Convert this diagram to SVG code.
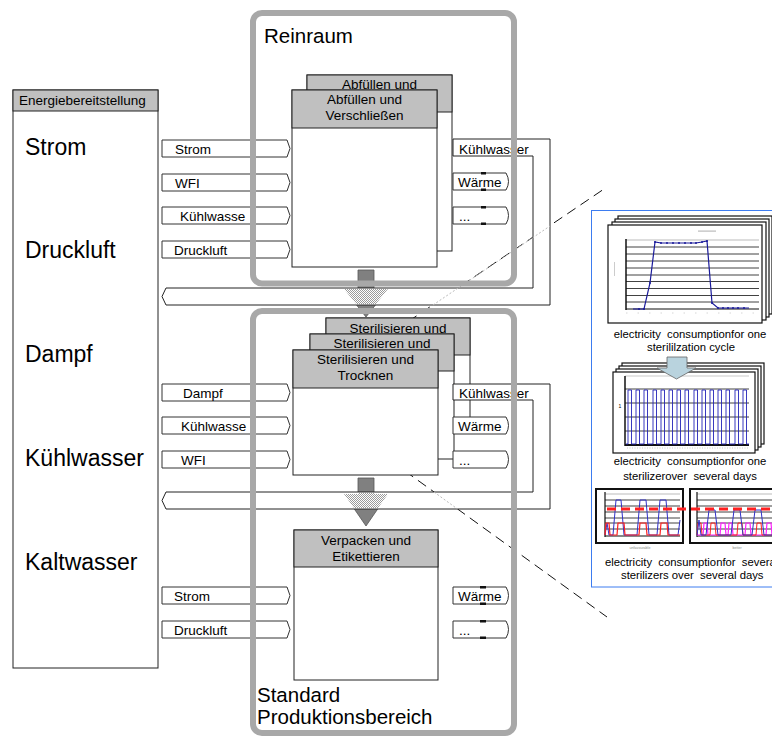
<svg xmlns="http://www.w3.org/2000/svg" width="772" height="738" viewBox="0 0 772 738">
<style>
text{font-family:"Liberation Sans",Arial,sans-serif;fill:#000}
.big{font-size:23px}
.hdr{font-size:13.5px}
.lbl{font-size:13.5px}
.proc{font-size:13.5px;text-anchor:middle}
.region{font-size:20.5px}
.cap{font-size:11.3px;white-space:pre}
.tiny{font-size:3.6px;fill:#888;text-anchor:middle}
.box{fill:#fff;stroke:#222;stroke-width:1}
.head{fill:#c0c0c0;stroke:#222;stroke-width:1}
.io{fill:#fff;stroke:#333;stroke-width:1}
.tick{fill:#111}
.zone{fill:none;stroke:#a8a8a8;stroke-width:6}
.band{fill:#fff;stroke:#222;stroke-width:1}
.flow{fill:#808080;stroke:#555;stroke-width:0.8}
.ghost{fill:url(#grey-dither)}
.dash{fill:none;stroke:#111;stroke-width:1;stroke-dasharray:10 6}
.faint{fill:none;stroke:#bbb;stroke-width:1;stroke-dasharray:2 2}
.page{fill:#fff;stroke:#111;stroke-width:1.2}
.grid{stroke:#111;stroke-width:0.8}
.frame{fill:#fff;stroke:#111;stroke-width:2}
</style>
<defs>
  <pattern id="grey-dither" width="2" height="2" patternUnits="userSpaceOnUse">
    <rect width="1" height="1" fill="#9a9a9a"/>
    <rect x="1" y="1" width="1" height="1" fill="#9a9a9a"/>
  </pattern>
  <marker id="dot" markerWidth="3" markerHeight="3" refX="1.5" refY="1.5" markerUnits="userSpaceOnUse">
    <circle cx="1.5" cy="1.5" r="1" fill="#1a1a9a"/>
  </marker>
</defs>

<rect width="772" height="738" fill="#fff"/>

<!-- energy supply column -->
<g id="energiebereitstellung">
  <rect class="box" x="13" y="90" width="145" height="578"/>
  <rect class="head" x="13" y="90" width="145" height="21"/>
  <text class="hdr" x="19" y="105">Energiebereitstellung</text>
  <text class="big" x="25" y="155">Strom</text>
  <text class="big" x="25" y="258">Druckluft</text>
  <text class="big" x="25" y="362">Dampf</text>
  <text class="big" x="25" y="466">Kühlwasser</text>
  <text class="big" x="25" y="570">Kaltwasser</text>
</g>

<!-- zoom lines towards the measurement panel, and flow arrows (under the machines) -->
<g id="connectors-back">
  <path class="dash" d="M395,330.5 L604,189"/>
  <path class="dash" d="M405,471 L607,617"/>
  <path class="flow" d="M358,270 H374 V289 H388 L366,317 L344,289 H358 Z"/>
  <path class="flow" d="M358,478 H374 V494 H388 L366,526 L344,494 H358 Z"/>
</g>

<!-- filling stage (stacked machines) -->
<g id="abfuellen">
  <rect class="box" x="307" y="75" width="145" height="176"/>
  <rect class="head" x="307" y="75" width="145" height="37"/>
  <text class="proc" x="379.5" y="89">Abfüllen und</text>
  <rect class="box" x="292" y="90" width="145" height="177"/>
  <rect class="head" x="292" y="90" width="145" height="38"/>
  <text class="proc" x="364.5" y="104">Abfüllen und</text>
  <text class="proc" x="364.5" y="120">Verschließen</text>
</g>

<!-- sterilisation stage (three machines) -->
<g id="sterilisieren">
  <rect class="box" x="326" y="318" width="144" height="110"/>
  <rect class="head" x="326" y="318" width="144" height="37"/>
  <text class="proc" x="398" y="333">Sterilisieren und</text>
  <rect class="box" x="310" y="334" width="144" height="125"/>
  <rect class="head" x="310" y="334" width="144" height="37"/>
  <text class="proc" x="382" y="348">Sterilisieren und</text>
  <rect class="box" x="293" y="350" width="145" height="125"/>
  <rect class="head" x="293" y="350" width="145" height="38"/>
  <text class="proc" x="365.5" y="364">Sterilisieren und</text>
  <text class="proc" x="365.5" y="380">Trocknen</text>
</g>

<!-- packaging stage -->
<g id="verpacken">
  <rect class="box" x="294" y="530" width="144" height="150"/>
  <rect class="head" x="294" y="530" width="144" height="37"/>
  <text class="proc" x="366" y="545">Verpacken und</text>
  <text class="proc" x="366" y="561">Etikettieren</text>
</g>

<!-- media inputs, outputs and return lines -->
<g id="connectors">
  <!-- cooling water return lines -->
  <path class="band" d="M453,139 H550 V305 H166 L162,296.5 L166,288 H533 V156 H453 Z"/>
  <path class="band" d="M453,384 H550 V509 H166 L162,500.5 L166,492 H533 V400 H453 Z"/>
  <!-- flow arrows and zoom lines seen through the return lines -->
  <path class="ghost" d="M358,288.5 H374 V289 H388 L375.4,304.5 H356.6 L344,289 H358 Z"/>
  <path class="ghost" d="M358,492.5 H374 V494 H388 L377.7,508.5 H354.3 L344,494 H358 Z"/>
  <path class="faint" d="M433,305 L550,226"/>
  <path class="faint" d="M434,492 L457.5,509"/>

  <!-- inputs, clean room -->
  <path class="io" d="M162,140 H287 L290,148.5 L287,157 H162 Z"/>
  <text class="lbl" x="175" y="154">Strom</text>
  <path class="io" d="M162,174 H287 L290,182.5 L287,191 H162 Z"/>
  <text class="lbl" x="175" y="188">WFI</text>
  <path class="io" d="M162,207 H287 L290,215.5 L287,224 H162 Z"/>
  <text class="lbl" x="180" y="221">Kühlwasse</text>
  <path class="io" d="M162,241 H287 L290,249.5 L287,258 H162 Z"/>
  <text class="lbl" x="174" y="255">Druckluft</text>

  <!-- inputs, sterilisation -->
  <path class="io" d="M162,384 H287 L290,392.5 L287,401 H162 Z"/>
  <text class="lbl" x="183" y="398">Dampf</text>
  <path class="io" d="M162,417 H287 L290,425.5 L287,434 H162 Z"/>
  <text class="lbl" x="181" y="431">Kühlwasse</text>
  <path class="io" d="M162,451 H287 L290,459.5 L287,468 H162 Z"/>
  <text class="lbl" x="181" y="465">WFI</text>

  <!-- inputs, packaging -->
  <path class="io" d="M162,587 H287 L290,595.5 L287,604 H162 Z"/>
  <text class="lbl" x="174" y="601">Strom</text>
  <path class="io" d="M162,621 H287 L290,629.5 L287,638 H162 Z"/>
  <text class="lbl" x="174" y="635">Druckluft</text>

  <!-- outputs -->
  <text class="lbl" x="459" y="153.5">Kühlwasser</text>
  <path class="io" d="M453,173 H506 Q511,181.5 506,190 H453 Z"/>
  <rect class="tick" x="481" y="172" width="5" height="2.5"/>
  <rect class="tick" x="481" y="188.5" width="5" height="2.5"/>
  <text class="lbl" x="458" y="187">Wärme</text>
  <path class="io" d="M453,207 H506 Q511,215.5 506,224 H453 Z"/>
  <rect class="tick" x="481" y="206" width="5" height="2.5"/>
  <rect class="tick" x="481" y="222.5" width="5" height="2.5"/>
  <text class="lbl" x="459" y="221">...</text>

  <text class="lbl" x="459" y="398">Kühlwasser</text>
  <path class="io" d="M453,417 H506 Q511,425.5 506,434 H453 Z"/>
  <text class="lbl" x="458" y="431">Wärme</text>
  <path class="io" d="M453,451 H506 Q511,459.5 506,468 H453 Z"/>
  <text class="lbl" x="459" y="465">...</text>

  <path class="io" d="M453,587 H506 Q511,595.5 506,604 H453 Z"/>
  <rect class="tick" x="480" y="586" width="6" height="2.5"/>
  <rect class="tick" x="480" y="602.5" width="6" height="2.5"/>
  <text class="lbl" x="458" y="601">Wärme</text>
  <path class="io" d="M453,621 H506 Q511,629.5 506,638 H453 Z"/>
  <rect class="tick" x="480" y="620" width="6" height="2.5"/>
  <rect class="tick" x="480" y="636.5" width="6" height="2.5"/>
  <text class="lbl" x="459" y="635">...</text>
</g>

<!-- production areas -->
<g id="reinraum">
  <rect class="zone" x="253" y="13" width="261" height="270.5" rx="9"/>
  <text class="region" x="264" y="43">Reinraum</text>
</g>
<g id="standard-produktionsbereich">
  <rect class="zone" x="253" y="311" width="261" height="422" rx="9"/>
  <text class="region" x="257" y="702">Standard</text>
  <text class="region" x="257" y="724">Produktionsbereich</text>
</g>

<!-- measurement panel -->
<g id="messdaten">
  <rect x="591.5" y="210.5" width="200" height="376.5" fill="#fff" stroke="#3d7cf0" stroke-width="1"/>

  <!-- single cycle -->
  <rect class="page" x="618" y="216" width="154" height="98"/>
  <rect class="page" x="615" y="219" width="154" height="98"/>
  <rect class="page" x="612" y="222" width="154" height="98"/>
  <rect class="page" x="608" y="225" width="154" height="98"/>
  <rect x="698" y="230.5" width="18" height="1.2" fill="#bbb"/>
  <rect x="614" y="262" width="1" height="14" fill="#ccc"/>
  <line x1="626" y1="240" x2="759" y2="240" stroke="#bbb" stroke-width="1"/>
  <g class="grid">
    <line x1="626" y1="247" x2="759" y2="247"/>
    <line x1="626" y1="254" x2="759" y2="254"/>
    <line x1="626" y1="261" x2="759" y2="261"/>
    <line x1="626" y1="268" x2="759" y2="268"/>
    <line x1="626" y1="275" x2="759" y2="275"/>
    <line x1="626" y1="281.5" x2="759" y2="281.5"/>
    <line x1="626" y1="288.5" x2="759" y2="288.5"/>
    <line x1="626" y1="295.5" x2="759" y2="295.5"/>
    <line x1="626" y1="302" x2="759" y2="302"/>
  </g>
  <line x1="626" y1="309" x2="759" y2="309" stroke="#111" stroke-width="1.2"/>
  <line x1="626" y1="239" x2="626" y2="310" stroke="#111" stroke-width="1.5"/>
  <line x1="626" y1="313" x2="759" y2="313" stroke="#ccc" stroke-width="0.8" stroke-dasharray="1.5 10"/>
  <polyline fill="none" stroke="#1a1a9a" stroke-width="1.2" marker-mid="url(#dot)" points="633,309 639,309 644,309 650,283 655,242 661,243 667,243 673,243 679,243 685,243 691,243 696,243 702,242 707,241 712,303 718,308 723,308 728,308 733,308 738,308 744,308 749,308"/>
  <text class="cap" x="690" y="338" text-anchor="middle">electricity  consumptionfor one</text>
  <text class="cap" x="691" y="351" text-anchor="middle">sterililzation cycle</text>

  <!-- several days, one sterilizer -->
  <rect class="page" x="622" y="363" width="142" height="81"/>
  <rect class="page" x="619" y="366" width="142" height="81"/>
  <rect class="page" x="616" y="369" width="142" height="81"/>
  <rect class="page" x="613" y="372" width="142" height="81"/>
  <line x1="625" y1="376" x2="749" y2="376" stroke="#bbb" stroke-width="0.8"/>
  <g class="grid">
    <line x1="625" y1="389" x2="749" y2="389"/>
    <line x1="625" y1="403" x2="749" y2="403"/>
    <line x1="625" y1="417" x2="749" y2="417"/>
    <line x1="625" y1="431" x2="749" y2="431"/>
  </g>
  <line x1="625" y1="445" x2="749" y2="445" stroke="#111" stroke-width="1.8"/>
  <line x1="625" y1="376" x2="625" y2="446" stroke="#111" stroke-width="1.5"/>
  <line x1="627" y1="448" x2="749" y2="448" stroke="#aaa" stroke-width="0.6" stroke-dasharray="1 1.5"/>
  <text x="620" y="408" font-size="5" fill="#777" text-anchor="middle">1</text>
  <polyline fill="none" stroke="#2323b8" stroke-width="0.9" points="626,444 628,444 628,390 631.5,390 631.5,444 636,444 636,390 639.5,390 639.5,444 644,444 644,390 647.5,390 647.5,444 653,444 653,390 656.5,390 656.5,444 661,444 661,390 664.5,390 664.5,444 669,444 669,390 672.5,390 672.5,444 677,444 677,390 680.5,390 680.5,444 685,444 685,390 688.5,390 688.5,444 694,444 694,390 697.5,390 697.5,444 702,444 702,390 705.5,390 705.5,444 710,444 710,390 713.5,390 713.5,444 718,444 718,390 721.5,390 721.5,444 726,444 726,390 729.5,390 729.5,444 735,444 735,390 738.5,390 738.5,444 743,444 743,390 746.5,390 746.5,444 749,444"/>
  <path d="M667,357 H687 V368 H696 L676.5,379 L657,368 H667 Z" fill="#b9d3de" stroke="#666" stroke-width="0.8"/>
  <text class="cap" x="690" y="465" text-anchor="middle">electricity  consumptionfor one</text>
  <text class="cap" x="690" y="480" text-anchor="middle">sterilizerover  several days</text>

  <!-- several sterilizers -->
  <rect class="frame" x="596" y="489" width="87" height="54"/>
  <rect class="frame" x="690" y="489" width="90" height="54"/>
  <line x1="605" y1="494" x2="680" y2="494" stroke="#aaa" stroke-width="0.8"/>
  <line x1="697" y1="494" x2="772" y2="494" stroke="#aaa" stroke-width="0.8"/>
  <g class="grid" stroke-width="0.6">
    <line x1="605" y1="500" x2="680" y2="500"/>
    <line x1="605" y1="506" x2="680" y2="506"/>
    <line x1="605" y1="512" x2="680" y2="512"/>
    <line x1="605" y1="518" x2="680" y2="518"/>
    <line x1="605" y1="523" x2="680" y2="523"/>
    <line x1="605" y1="529" x2="680" y2="529"/>
    <line x1="697" y1="500" x2="772" y2="500"/>
    <line x1="697" y1="506" x2="772" y2="506"/>
    <line x1="697" y1="512" x2="772" y2="512"/>
    <line x1="697" y1="518" x2="772" y2="518"/>
    <line x1="697" y1="523" x2="772" y2="523"/>
    <line x1="697" y1="529" x2="772" y2="529"/>
  </g>
  <line x1="605" y1="536" x2="680" y2="536" stroke="#111" stroke-width="1.2"/>
  <line x1="697" y1="536" x2="772" y2="536" stroke="#111" stroke-width="1.2"/>
  <line x1="605" y1="492" x2="605" y2="537" stroke="#111" stroke-width="1.2"/>
  <line x1="697" y1="492" x2="697" y2="537" stroke="#111" stroke-width="1.2"/>
  <polyline fill="none" stroke="#3030c8" stroke-width="1" points="605,535 607,523 609,535 613,535 616,500 621,500 624,535 637,535 640,500 646,500 649,535 657,535 660,500 666,500 669,535 678,535 680,520"/>
  <polyline fill="none" stroke="#ff2020" stroke-width="1.2" points="605,535 606,523 609,523 610,535 617,535 618,523 624,523 625,535 639,535 640,523 646,523 647,535 660,535 661,523 667,523 668,535 680,535"/>
  <polyline fill="none" stroke="#ff20ff" stroke-width="1.2" points="697,535 703,535 704,523 707,523 708,535 720,535 721,523 725,523 726,535 728,535 729,523 732,523 733,535 745,535 746,523 750,523 751,535 766,535 767,523 771,523 772,535"/>
  <polyline fill="none" stroke="#ff2020" stroke-width="1" points="697,535 698,523 701,523 702,535 710,535 711,523 715,523 716,535 737,535 738,523 742,523 743,535 756,535 757,523 761,523 762,535 772,535"/>
  <polyline fill="none" stroke="#3030c8" stroke-width="1" points="697,535 699,520 701,535 706,535 709,510 715,510 718,535 731,535 734,510 740,510 743,535 752,535 755,510 761,510 764,535 772,535"/>
  <line x1="607" y1="509" x2="772" y2="509" stroke="#ff2020" stroke-width="3" stroke-dasharray="9 5"/>
  <text class="tiny" x="640" y="549">unfavourable</text>
  <text class="tiny" x="737" y="549">better</text>
  <text class="cap" x="605" y="566">electricity  consumptionfor  several</text>
  <text class="cap" x="621" y="579">sterilizers over  several days</text>
</g>
</svg>
